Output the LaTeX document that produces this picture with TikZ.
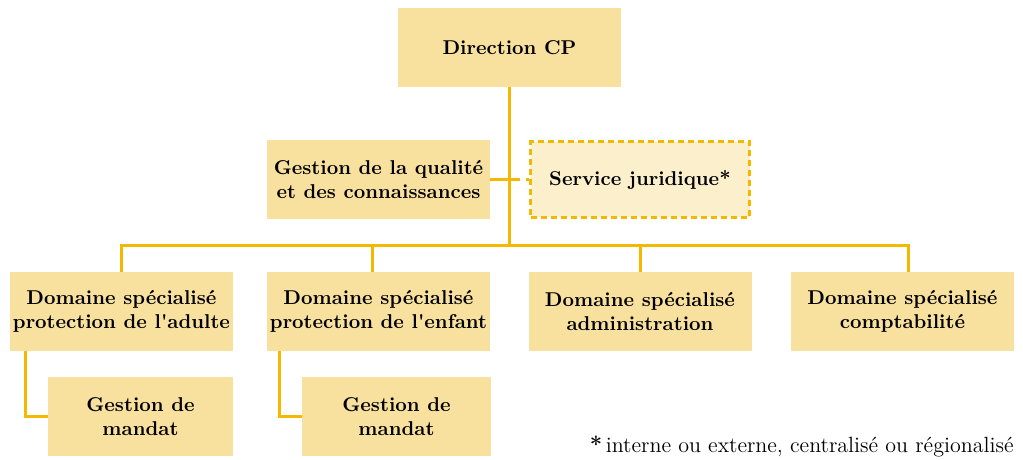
\documentclass[tikz,border=0pt]{standalone}
\usepackage{fontspec}
\definecolor{boxfill}{HTML}{F8E09E}
\definecolor{linecol}{HTML}{F4B800}
\definecolor{lightfill}{HTML}{FCEFCC}
\tikzset{
  box/.style={fill=boxfill, minimum width=111.5pt, minimum height=39.5pt, inner sep=0pt, align=center, font=\bfseries},
  dashbox/.style={box, fill=lightfill, draw=linecol, line width=1.5pt, dash pattern=on 3pt off 2pt, minimum width=109.5pt, minimum height=37.5pt},
  link/.style={draw=linecol, line width=1.5pt}
}
\begin{document}
\begin{tikzpicture}[x=0.5pt, y=-0.5pt]
    \useasboundingbox (0,0) rectangle (1023,460);

    \node[box] (DIR) at (509.5, 47.5) {Direction CP};
    \node[box] (GQ) at (378.5, 179.5) {Gestion de la qualité\\et des connaissances};
    \node[dashbox] (SJ) at (640, 179.5) {Service juridique*};

    \node[box] (DA) at (121.5, 311.5) {Domaine spécialisé\\protection de l\textquotesingle adulte};
    \node[box] (DE) at (378.5, 311.5) {Domaine spécialisé\\protection de l\textquotesingle enfant};
    \node[box] (DAD) at (640, 311.5) {Domaine spécialisé\\administration};
    \node[box] (DC) at (902.5, 311.5) {Domaine spécialisé\\comptabilité};

    \node[box, minimum width=92.5pt] (GMA) at (140.5, 416.5) {Gestion de\\mandat};
    \node[box, minimum width=94.5pt] (GME) at (396.5, 416.5) {Gestion de\\mandat};

    \coordinate (BUSL) at (121.5, 245);
    \coordinate (BUSR) at (908, 245);

    \draw[link] (DIR.south) -- (DIR.south |- BUSL);
    \draw[link] (DA.north) -- (BUSL) -- (BUSR) -- (BUSR |- DC.north);
    \draw[link] ([xshift=-3.25pt]DE.north) -- ([xshift=-3.25pt]DE.north |- BUSL);
    \draw[link] (DAD.north) -- (DAD.north |- BUSL);
    \draw[link] (GQ.east) -- (GQ.east -| DIR.south);
    \draw[link, dash pattern=on 5pt off 3pt] (GQ.east -| DIR.south) -- (SJ.west);

    \draw[link] ([xshift=8pt]DA.south west) |- (GMA.west);
    \draw[link] ([xshift=6.5pt]DE.south west) |- (GME.west);

    \node[anchor=base east, inner sep=0pt, font=\fontsize{11}{13}\selectfont] (NOTE) at (1014, 452) {\textbf{*}\,interne ou externe, centralisé ou régionalisé};
\end{tikzpicture}
\end{document}
